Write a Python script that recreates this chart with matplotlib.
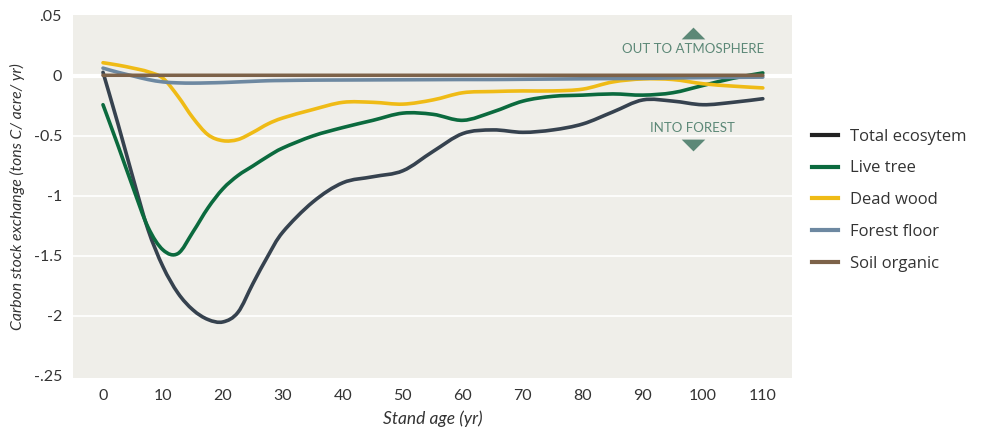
import numpy as np
import matplotlib.pyplot as plt
from matplotlib.lines import Line2D
from matplotlib.path import Path
from matplotlib.patches import PathPatch

# stand age (yr)
age = [0, 2.5, 5, 7.5, 10, 12.5, 15, 17.5, 20, 22.5, 25, 27.5, 30, 35, 40, 45, 50,
       55, 60, 65, 70, 75, 80, 85, 90, 95, 100, 105, 110]

total = [0.03, -0.4, -0.85, -1.28, -1.59, -1.81, -1.95, -2.03, -2.05, -1.97, -1.73,
         -1.5, -1.3, -1.05, -0.89, -0.84, -0.79, -0.63, -0.48, -0.45, -0.47, -0.45,
         -0.4, -0.3, -0.2, -0.21, -0.24, -0.22, -0.19]
live = [-0.24, -0.58, -0.93, -1.26, -1.45, -1.48, -1.3, -1.1, -0.94, -0.83, -0.75,
        -0.67, -0.6, -0.5, -0.43, -0.37, -0.31, -0.32, -0.37, -0.3, -0.21, -0.17,
        -0.16, -0.15, -0.16, -0.14, -0.08, -0.02, 0.025]
dead = [0.11, 0.09, 0.065, 0.035, -0.02, -0.17, -0.35, -0.49, -0.54, -0.53, -0.47,
        -0.4, -0.35, -0.28, -0.22, -0.22, -0.235, -0.2, -0.14, -0.13, -0.125, -0.125,
        -0.11, -0.05, -0.025, -0.03, -0.065, -0.085, -0.1]
floor = [0.065, 0.03, 0.0, -0.03, -0.05, -0.058, -0.06, -0.058, -0.055, -0.05,
         -0.045, -0.04, -0.038, -0.035, -0.034, -0.033, -0.032, -0.031, -0.03, -0.03,
         -0.028, -0.026, -0.024, -0.022, -0.02, -0.017, -0.014, -0.012, -0.01]
soil = [0.005] * len(age)

names = ['Total ecosytem', 'Live tree', 'Dead wood', 'Forest floor', 'Soil organic']
colors = ['#36424f', '#0b6a3e', '#efbb16', '#6d88a1', '#7d6249']
legend_colors = ['#222222', '#0b6a3e', '#efbb16', '#6d88a1', '#7d6249']

yticks = [0.5, 0, -0.5, -1, -1.5, -2, -2.5]
ylabels = ['.05', '0', '-0.5', '-1', '-1.5', '-2', '-.25']
xticks = list(range(0, 111, 10))


def smooth_path(x, y):
    # catmull-rom through the points, drawn as cubic bezier segments
    x = np.asarray(x, float)
    y = np.asarray(y, float)
    n = len(x)
    verts = [(x[0], y[0])]
    codes = [Path.MOVETO]
    for i in range(n - 1):
        i0 = max(i - 1, 0)
        i3 = min(i + 2, n - 1)
        c1 = (x[i] + (x[i + 1] - x[i0]) / 6, y[i] + (y[i + 1] - y[i0]) / 6)
        c2 = (x[i + 1] - (x[i3] - x[i]) / 6, y[i + 1] - (y[i3] - y[i]) / 6)
        verts += [c1, c2, (x[i + 1], y[i + 1])]
        codes += [Path.CURVE4] * 3
    return Path(verts, codes)


plt.rcParams['font.family'] = ['Lato', 'DejaVu Sans']

fig = plt.figure(figsize=(9.92, 4.4), dpi=100)
ax = fig.add_axes([0.0736, 0.141, 0.7244, 0.825])
ax.set_facecolor('#efeee9')
for s in ax.spines.values():
    s.set_visible(False)

for yv in yticks[1:-1]:
    ax.axhline(yv, color='white', lw=3 if yv == 0 else 1.2, zorder=1)

series = [total, live, dead, floor, soil]
for vals, c in zip(series, colors):
    ax.add_patch(PathPatch(smooth_path(age, vals), fill=False, edgecolor=c,
                           lw=2.6, capstyle='round', joinstyle='round', zorder=3))

ax.set_xlim(-5, 114.8)
ax.set_ylim(-2.517, 0.508)
ax.set_xticks(xticks)
ax.set_yticks(yticks)
ax.set_yticklabels(ylabels)
ax.tick_params(length=0, labelsize=11.5, labelcolor='#333333', pad=8)
ax.set_xlabel('Stand age (yr)', fontsize=12.5, style='italic', color='#333333', labelpad=5)
ax.set_ylabel('Carbon stock exchange (tons C/ acre/ yr)', fontsize=11.3,
              style='italic', color='#333333', labelpad=6)

ann = '#5c8877'
tri_up = [(-1, -0.5), (1, -0.5), (0, 0.5), (-1, -0.5)]
tri_dn = [(-1, 0.5), (1, 0.5), (0, -0.5), (-1, 0.5)]
ax.text(98.3, 0.222, 'OUT TO ATMOSPHERE', color=ann, fontsize=9.5,
        ha='center', va='center')
ax.plot([98.3], [0.36], marker=tri_up, ms=17, mew=0, color=ann, lw=0, zorder=4)
ax.text(98.3, -0.435, 'INTO FOREST', color=ann, fontsize=9.5,
        ha='center', va='center')
ax.plot([98.3], [-0.575], marker=tri_dn, ms=17, mew=0, color=ann, lw=0, zorder=4)

handles = [Line2D([], [], color=c, lw=3) for c in legend_colors]
fig.legend(handles, names, loc='center left', bbox_to_anchor=(0.803, 0.545),
           frameon=False, handlelength=1.6, handletextpad=0.7, labelspacing=0.95,
           labelcolor='#333333', prop={'family': 'Open Sans', 'size': 12})

fig.savefig('out.png')
